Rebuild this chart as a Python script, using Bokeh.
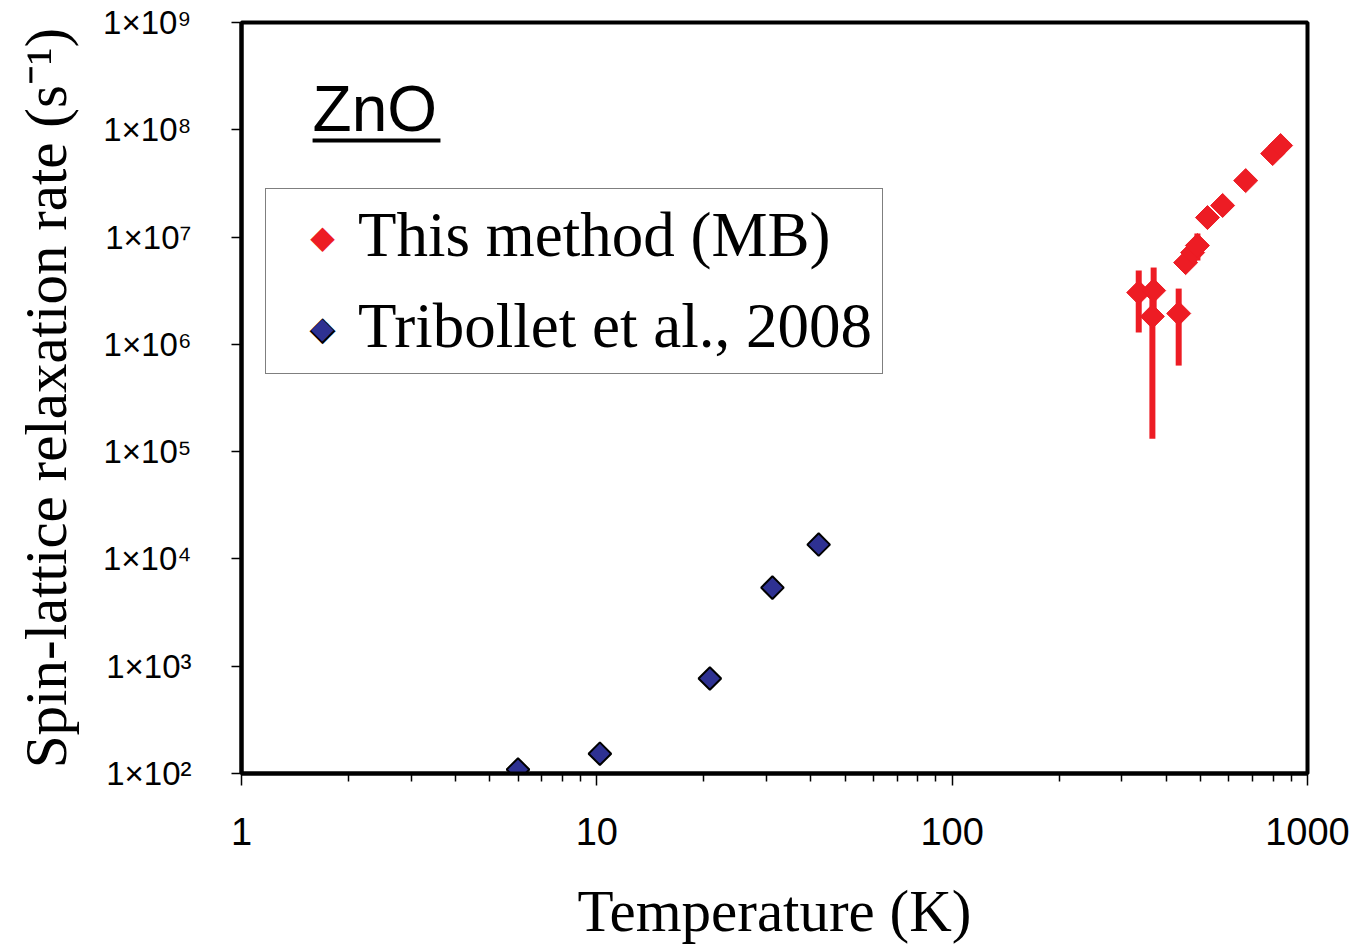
from bokeh.plotting import figure
from bokeh.models import FixedTicker, Legend, LegendItem, Label, BoxAnnotation
from bokeh.embed import file_html
from bokeh.resources import INLINE
import numpy as np

# ---- data ----
red_T = [335, 369, 366, 434, 454, 475, 490, 523, 577, 670, 798, 840]
red_rate = [3.04e6, 3.17e6, 1.82e6, 1.94e6, 5.78e6, 7.17e6, 8.34e6,
            1.52e7, 1.97e7, 3.36e7, 6.0e7, 7.13e7]
red_lo = [1.29e6, 1.82e6, 1.32e5, 6.34e5, 5.78e6, 7.17e6, 6.04e6,
          1.52e7, 1.97e7, 3.36e7, 6.0e7, 7.13e7]
red_hi = [4.88e6, 5.2e6, 3.17e6, 3.31e6, 5.78e6, 7.17e6, 1.08e7,
          1.52e7, 1.97e7, 3.36e7, 6.0e7, 7.13e7]

blue_T = [6.0, 10.2, 20.8, 31.2, 42.1]
blue_rate = [109, 153, 768, 5400, 13600]

x_ticks = [1, 10, 100, 1000]
x_tick_labels = ["1", "10", "100", "1000"]
y_ticks = [1e2, 1e3, 1e4, 1e5, 1e6, 1e7, 1e8, 1e9]
y_tick_labels = ["1×10²", "1×10³", "1×10⁴", "1×10⁵", "1×10⁶", "1×10⁷", "1×10⁸", "1×10⁹"]

series_names = ["This method (MB)", "Tribollet et al., 2008"]

RED = "#ED1C24"
BLUE = "#2E3192"

p = figure(frame_width=1066, frame_height=751,
           min_border_left=241, min_border_right=45,
           min_border_top=22, min_border_bottom=173,
           x_axis_type="log", y_axis_type="log",
           x_range=(1, 1000), y_range=(1e2, 1e9),
           output_backend="svg", toolbar_location=None)

p.background_fill_color = "white"
p.border_fill_color = "white"
p.xgrid.visible = False
p.ygrid.visible = False
p.outline_line_color = "black"
p.outline_line_width = 4

minor = [m * d for d in [1, 10, 100] for m in range(2, 10)]
p.xaxis.ticker = FixedTicker(ticks=x_ticks, minor_ticks=minor)
p.yaxis.ticker = FixedTicker(ticks=y_ticks, minor_ticks=[])
p.xaxis.major_label_overrides = {float(t): l for t, l in zip(x_ticks, x_tick_labels)}
p.yaxis.major_label_overrides = {float(t): l for t, l in zip(y_ticks, y_tick_labels)}

for ax in (p.xaxis, p.yaxis):
    ax.axis_line_color = "black"
    ax.axis_line_width = 4
    ax.major_tick_line_color = "black"
    ax.major_tick_line_width = 1.5
    ax.minor_tick_line_color = "black"
    ax.minor_tick_line_width = 1.5
    ax.major_tick_in = 0
    ax.minor_tick_in = 0
    ax.axis_label_text_font = "Liberation Serif"
    ax.axis_label_text_font_style = "normal"
    ax.axis_label_text_font_size = "59px"
    ax.axis_label_text_color = "black"
    ax.major_label_text_color = "black"

p.xaxis.major_tick_out = 12
p.xaxis.minor_tick_out = 8
p.xaxis.major_label_text_font = "Liberation Sans"
p.xaxis.major_label_text_font_size = "38px"
p.xaxis.major_label_standoff = 32
p.xaxis.axis_label = "Temperature (K)"
p.xaxis.axis_label_standoff = 30

p.yaxis.major_tick_out = 10
p.yaxis.minor_tick_out = 0
p.yaxis.major_label_text_font = "Liberation Sans"
p.yaxis.major_label_text_font_size = "33px"
p.yaxis.major_label_standoff = 40
p.yaxis.axis_label = "Spin-lattice relaxation rate (s⁻¹)"
p.yaxis.axis_label_standoff = 21

# error bars
p.segment(x0=red_T, y0=red_lo, x1=red_T, y1=red_hi, line_color=RED, line_width=6)

r_red = p.scatter(red_T, red_rate, marker="square", angle=np.pi / 4, size=17,
                  fill_color=RED, line_color=RED, line_width=1)
r_blue = p.scatter(blue_T, blue_rate, marker="square", angle=np.pi / 4, size=16,
                   fill_color=BLUE, line_color="black", line_width=2)

# ZnO label with underline
p.add_layout(Label(x=1.585, y=10**8.533, text="ZnO", text_font="Liberation Sans",
                   text_font_size="64px", text_baseline="top", text_color="black"))
p.add_layout(BoxAnnotation(left=1.585, right=3.63, bottom=10**7.881, top=10**7.918,
                           fill_color="black", fill_alpha=1, line_color=None))

# legend: empty placeholder renderers (glyph drawn as rotated-square text symbols)
leg_red = p.scatter(x=[], y=[], marker="square", fill_alpha=0, line_alpha=0)
leg_blue = p.scatter(x=[], y=[], marker="square", fill_alpha=0, line_alpha=0)
legend = Legend(items=[LegendItem(label=series_names[0], renderers=[leg_red]),
                       LegendItem(label=series_names[1], renderers=[leg_blue])],
                location=(24, 399))
legend.label_text_font = "Liberation Serif"
legend.label_text_font_size = "63px"
legend.label_text_color = "black"
legend.border_line_color = "black"
legend.border_line_width = 1
legend.background_fill_alpha = 0
legend.glyph_width = 80
legend.glyph_height = 40
legend.label_height = 60
legend.label_standoff = 2
legend.spacing = 18
legend.padding = 10
legend.margin = 0
p.add_layout(legend, "center")

# legend symbols (screen units)
sym_x = 81
for yy, fs, col in [(537, "32px", RED), (446, "34px", "black"), (446, "29px", BLUE)]:
    p.add_layout(Label(x=sym_x, y=yy, x_units="screen", y_units="screen", text="◆",
                       text_font="DejaVu Sans", text_font_size=fs, text_color=col,
                       text_align="center", text_baseline="middle", level="overlay"))

open("out.html", "w").write(file_html(p, INLINE))
